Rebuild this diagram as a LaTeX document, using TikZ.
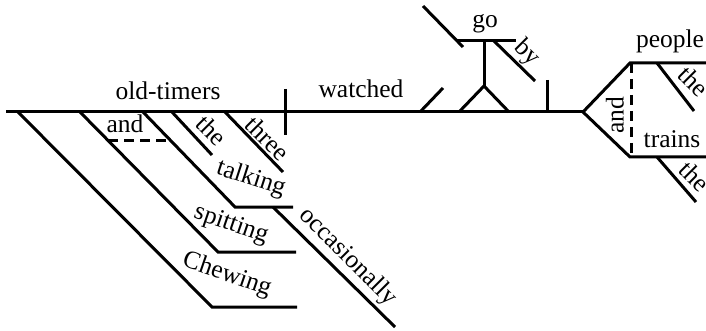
\documentclass[tikz,border=0pt]{standalone}
\usepackage{fontspec}
\setmainfont{Liberation Serif}
\begin{document}
\begin{tikzpicture}[x=1pt,y=-1pt,
  ln/.style={line width=3pt},
  dsh/.style={line width=3pt,dash pattern=on 10pt off 6pt},
  wd/.style={inner sep=0pt,font=\fontsize{25.5}{30}\selectfont}]
\useasboundingbox (0,0) rectangle (706,331);
% main line
\coordinate (b0) at (6,112);
\coordinate (fork) at (583,112);
\draw[ln] (b0) -- (fork);
% subject/verb divider
\coordinate (dv1) at (285,89);
\coordinate (dv2) at (285,135);
\draw[ln] (dv1) -- (dv2);
% participles
\coordinate (c1) at (18,112); \coordinate (c2) at (212,307); \coordinate (c3) at (297,307);
\coordinate (s1) at (80,112); \coordinate (s2) at (218,252); \coordinate (s3) at (296,252);
\coordinate (t1) at (143,112); \coordinate (t2) at (235,207); \coordinate (t3) at (293,207);
\draw[ln] (c1) -- (c2) -- (c3);
\draw[ln] (s1) -- (s2) -- (s3);
\draw[ln] (t1) -- (t2) -- (t3);
\coordinate (an1) at (108,141); \coordinate (an2) at (170,141);
\draw[dsh] (an1) -- (an2);
\coordinate (th1) at (172,112); \coordinate (th2) at (212,155);
\draw[ln] (th1) -- (th2);
\coordinate (tr1) at (225,112); \coordinate (tr2) at (283,172);
\draw[ln] (tr1) -- (tr2);
\coordinate (oc1) at (273,207); \coordinate (oc2) at (395,327);
\draw[ln] (oc1) -- (oc2);
% object clause on pedestal
\coordinate (sl1) at (420,112); \coordinate (sl2) at (443,88);
\draw[ln] (sl1) -- (sl2);
\coordinate (pl) at (459,112); \coordinate (pa) at (484,86); \coordinate (pr) at (509,112);
\coordinate (pt) at (484,41);
\draw[ln] (pl) -- (pa) -- (pr);
\draw[ln] (pa) -- (pt);
\coordinate (gl) at (457,41); \coordinate (gr) at (516,41);
\draw[ln] (gl) -- (gr);
\coordinate (gs1) at (423,6); \coordinate (gs2) at (463,47);
\draw[ln] (gs1) -- (gs2);
\coordinate (by1) at (494,41); \coordinate (by2) at (535,81);
\draw[ln] (by1) -- (by2);
\coordinate (vb1) at (547,80); \coordinate (vb2) at (547,112);
\draw[ln] (vb1) -- (vb2);
% compound object
\coordinate (up) at (630,63); \coordinate (upr) at (708,63);
\coordinate (lo) at (630,157); \coordinate (lor) at (708,157);
\draw[ln] (fork) -- (up) -- (upr);
\draw[ln] (fork) -- (lo) -- (lor);
\coordinate (da1) at (631,63); \coordinate (da2) at (631,157);
\draw[dsh] (da1) -- (da2);
\coordinate (ut1) at (657,63); \coordinate (ut2) at (694,111);
\coordinate (lt1) at (657,157); \coordinate (lt2) at (696,202);
\draw[ln] (ut1) -- (ut2);
\draw[ln] (lt1) -- (lt2);
% words
\node[wd,anchor=base] (w-old) at (168,100) {old-timers};
\node[wd,anchor=base] (w-watched) at (361,98) {watched};
\node[wd,anchor=base] (w-and1) at (125,133) {and};
\node[wd,rotate=-45] (w-the1) at (212,130) {the};
\node[wd,rotate=-45] (w-three) at (268,138) {three};
\node[wd,rotate=-18] (w-talking) at (251,179) {talking};
\node[wd,rotate=-19] (w-spitting) at (231,225) {spitting};
\node[wd,rotate=-19] (w-chewing) at (227,275) {Chewing};
\node[wd,rotate=-45] (w-occ) at (348,257) {occasionally};
\node[wd,anchor=base] (w-go) at (485,28) {go};
\node[wd,rotate=-45] (w-by) at (527,53) {by};
\node[wd,anchor=base] (w-people) at (670,48) {people};
\node[wd,anchor=base] (w-trains) at (672,148) {trains};
\node[wd,rotate=-45] (w-the2) at (694,81) {the};
\node[wd,rotate=-45] (w-the3) at (695,176) {the};
\node[wd,rotate=90] (w-and2) at (615,115) {and};
\end{tikzpicture}
\end{document}
